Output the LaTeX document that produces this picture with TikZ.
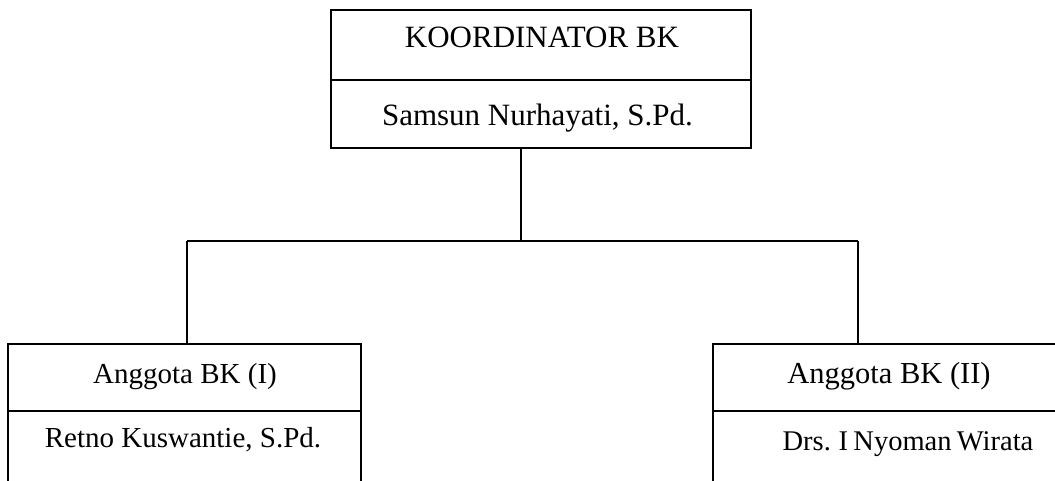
\documentclass[tikz,border=0pt]{standalone}
\usepackage{fontspec}
\setmainfont{Liberation Serif}
\newfontfamily\tightserif[WordSpace=0.75]{Liberation Serif}
\begin{document}
\begin{tikzpicture}[x=1pt,y=-1pt,
  cell/.style={draw, rectangle, inner sep=0pt, line width=1.5pt},
  lbl/.style={anchor=base, inner sep=0pt},
  wire/.style={line width=1.5pt},
  fa/.style={font=\fontsize{31}{36}\selectfont},
  fb/.style={font=\fontsize{29}{34}\selectfont},
  fc/.style={font=\fontsize{30.5}{36}\selectfont},
  fd/.style={font=\tightserif\fontsize{28.5}{34}\selectfont}]
\useasboundingbox (0,0) rectangle (1055,481);
\clip (0,0) rectangle (1055,481);
% top box
\node[cell, minimum width=420pt, minimum height=70pt] (k1) at (541,45) {};
\node[cell, minimum width=420pt, minimum height=68pt] (k2) at (541,114) {};
% left box
\node[cell, minimum width=353pt, minimum height=67pt] (l1) at (184.5,377.5) {};
\node[cell, minimum width=353pt, minimum height=109pt] (l2) at (184.5,465.5) {};
% right box
\node[cell, minimum width=387pt, minimum height=67pt] (r1) at (906.5,377.5) {};
\node[cell, minimum width=387pt, minimum height=109pt] (r2) at (906.5,465.5) {};
% texts
\node[lbl, fa] (tk1) at (542,48) {KOORDINATOR BK};
\node[lbl, fa] (tk2) at (537.5,126) {Samsun Nurhayati, S.Pd.};
\node[lbl, fb] (tl1) at (185,383) {Anggota BK (I)};
\node[lbl, fb] (tl2) at (183,447) {Retno Kuswantie, S.Pd.};
\node[lbl, fc] (tr1) at (889,383) {Anggota BK (II)};
\node[lbl, fd] (tr2) at (908,450) {Drs. I Nyoman Wirata};
% connectors
\coordinate (j) at (521,241);
\coordinate (jl) at (187,241);
\coordinate (jr) at (858,241);
\draw[wire] (k2.south -| j) -- (j);
\draw[wire] (jl) -- (jr);
\draw[wire] (jl) -- (l1.north -| jl);
\draw[wire] (jr) -- (r1.north -| jr);
\end{tikzpicture}
\end{document}
